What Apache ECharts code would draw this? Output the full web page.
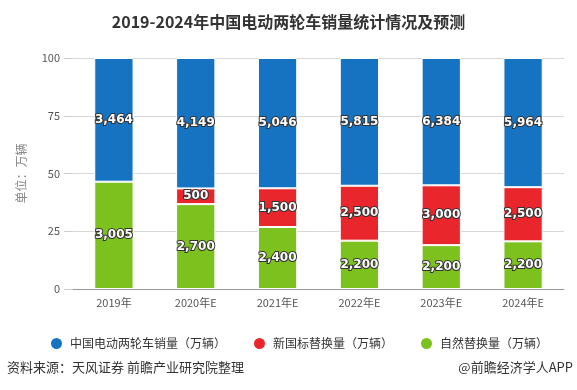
<!DOCTYPE html>
<html><head><meta charset="utf-8">
<script src="https://cdn.jsdelivr.net/npm/echarts@6/dist/echarts.min.js"></script>
<style>html,body{margin:0;padding:0;background:#fff}#c{width:577px;height:390px}</style>
</head><body><div id="c"></div>
<script>
var categories = ['2019年','2020年E','2021年E','2022年E','2023年E','2024年E'];
var salesValues = [3464, 4149, 5046, 5815, 6384, 5964];
var newStdValues = [null, 500, 1500, 2500, 3000, 2500];
var naturalValues = [3005, 2700, 2400, 2200, 2200, 2200];
var yTicks = [0, 25, 50, 75, 100];
var seriesNames = ['中国电动两轮车销量（万辆）','新国标替换量（万辆）','自然替换量（万辆）'];

var FONT = '"Noto Sans CJK SC", "Noto Sans", sans-serif';
var totals = categories.map(function(_, i){ return (salesValues[i]||0)+(newStdValues[i]||0)+(naturalValues[i]||0); });
function pct(arr){ return arr.map(function(v,i){ return v==null?null:{value: v/totals[i]*100, raw: v}; }); }
function fmt(v){ return String(v).replace(/\B(?=(\d{3})+(?!\d))/g, ','); }
var lbl = {show:true, position:'inside', color:'#fff', fontWeight:'bold', fontSize:12, fontFamily:'Verdana, "DejaVu Sans", sans-serif',
  textBorderColor:'#333', textBorderWidth:2, formatter:function(p){ return fmt(p.data.raw); }};
function mk(name, arr, color){
  return {name:name, type:'bar', stack:'a', barWidth:'48%', data:pct(arr),
    itemStyle:{color:color, borderColor:'#fff', borderWidth:1}, label:lbl};
}
var chart = echarts.init(document.getElementById('c'));
chart.setOption({
  animation:false,
  textStyle:{fontFamily:FONT},
  title:{text:'2019-2024年中国电动两轮车销量统计情况及预测', left:'center', top:9,
    textStyle:{fontSize:16, fontWeight:'bold', color:'#333', fontFamily:FONT}},
  grid:{left:73, right:13, top:58, bottom:101},
  legend:{left:44, top:331, icon:'circle', itemWidth:13, itemHeight:13, itemGap:26,
    textStyle:{fontSize:12, color:'#333', fontFamily:FONT, padding:[0,0,0,2]},
    data:seriesNames},
  xAxis:{type:'category', data:categories,
    axisLine:{lineStyle:{color:'#999'}}, axisTick:{alignWithLabel:true, length:5, lineStyle:{color:'#999'}},
    axisLabel:{color:'#555', fontSize:11, margin:8, fontFamily:FONT}},
  yAxis:{type:'value', min:yTicks[0], max:yTicks[yTicks.length-1], interval:25,
    name:'单位：万辆', nameLocation:'middle', nameGap:46, nameRotate:90,
    nameTextStyle:{color:'#888', fontSize:12, fontFamily:FONT},
    axisLine:{show:false}, axisTick:{show:true, length:9, lineStyle:{color:'#ccc'}},
    axisLabel:{color:'#555', fontSize:11, margin:13, fontFamily:FONT},
    splitLine:{lineStyle:{color:'#d8d8d8'}}},
  series:[
    mk(seriesNames[2], naturalValues, '#7dc11f'),
    mk(seriesNames[1], newStdValues, '#e8262b'),
    mk(seriesNames[0], salesValues, '#1673c2')
  ],
  graphic:[
    {type:'text', left:7, top:361, style:{text:'资料来源：天风证券 前瞻产业研究院整理', fill:'#333', font:'13px '+FONT}},
    {type:'text', right:4, top:361, style:{text:'@前瞻经济学人APP', fill:'#333', font:'13px '+FONT}}
  ]
});
</script></body></html>
